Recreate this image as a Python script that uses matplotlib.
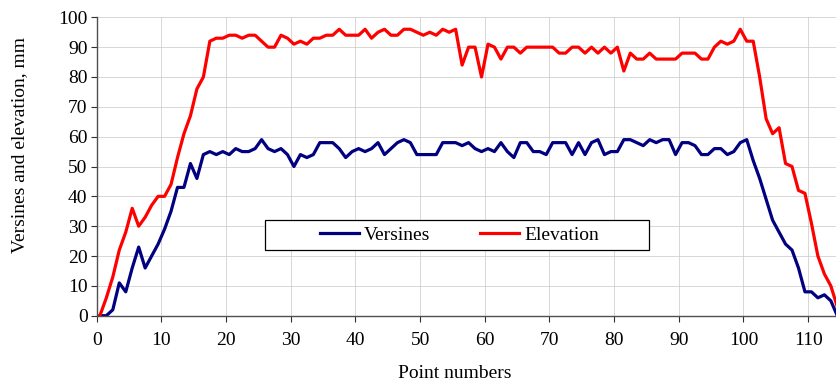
import matplotlib
matplotlib.use("Agg")
import matplotlib.pyplot as plt
import numpy as np
from matplotlib.patches import Rectangle

# values, one per point number 0..114
versines = [0, 0, 2, 11, 8, 16, 23, 16, 20, 24,
            29, 35, 43, 43, 51, 46, 54, 55, 54, 55,
            54, 56, 55, 55, 56, 59, 56, 55, 56, 54,
            50, 54, 53, 54, 58, 58, 58, 56, 53, 55,
            56, 55, 56, 58, 54, 56, 58, 59, 58, 54,
            54, 54, 54, 58, 58, 58, 57, 58, 56, 55,
            56, 55, 58, 55, 53, 58, 58, 55, 55, 54,
            58, 58, 58, 54, 58, 54, 58, 59, 54, 55,
            55, 59, 59, 58, 57, 59, 58, 59, 59, 54,
            58, 58, 57, 54, 54, 56, 56, 54, 55, 58,
            59, 52, 46, 39, 32, 28, 24, 22, 16, 8,
            8, 6, 7, 5, 0]
elevation = [0, 6, 13, 22, 28, 36, 30, 33, 37, 40,
             40, 44, 53, 61, 67, 76, 80, 92, 93, 93,
             94, 94, 93, 94, 94, 92, 90, 90, 94, 93,
             91, 92, 91, 93, 93, 94, 94, 96, 94, 94,
             94, 96, 93, 95, 96, 94, 94, 96, 96, 95,
             94, 95, 94, 96, 95, 96, 84, 90, 90, 80,
             91, 90, 86, 90, 90, 88, 90, 90, 90, 90,
             90, 88, 88, 90, 90, 88, 90, 88, 90, 88,
             90, 82, 88, 86, 86, 88, 86, 86, 86, 86,
             88, 88, 88, 86, 86, 90, 92, 91, 92, 96,
             92, 92, 80, 66, 61, 63, 51, 50, 42, 41,
             31, 20, 14, 10, 3]
x_ticks = list(range(0, 111, 10))
y_ticks = list(range(0, 101, 10))

plt.rcParams['font.family'] = ['Liberation Serif', 'DejaVu Serif']
plt.rcParams['font.size'] = 14

fig = plt.figure(figsize=(8.36, 3.83), dpi=100)
ax = fig.add_axes([0.1156, 0.1757, 0.8844, 0.7791])

# points sit in the middle of each category, like the spreadsheet chart
x = np.arange(len(versines)) + 0.5
ax.plot(x, versines, color='#000080', lw=2.3, label='Versines', zorder=2)
ax.plot(x, elevation, color='#ff0000', lw=2.3, label='Elevation', zorder=2)

ax.set_xlim(0, 114.3)
ax.set_ylim(0, 100)
ax.set_xticks(x_ticks)
ax.set_yticks(y_ticks)
ax.grid(True, color='#c8c8c8', lw=0.5, zorder=0)
ax.set_axisbelow(True)
for s in ['top', 'right']:
    ax.spines[s].set_visible(False)
for s in ['left', 'bottom']:
    ax.spines[s].set_color('#505050')
    ax.spines[s].set_linewidth(1.0)
ax.tick_params(axis='both', direction='out', length=4.5, width=0.8, color='#303030')
ax.tick_params(axis='y', pad=2)
ax.tick_params(axis='x', pad=7)

ax.set_xlabel('Point numbers')
ax.set_ylabel('Versines and elevation, mm')
ax.xaxis.set_label_coords(0.4847, -0.165)
ax.yaxis.set_label_coords(-0.093, 0.572)

# legend box
box = Rectangle((0.2277, 0.2202), 0.5194, 0.1005, transform=ax.transAxes,
                facecolor='white', edgecolor='black', lw=0.9, zorder=3)
ax.add_patch(box)
leg = ax.legend(loc='center', bbox_to_anchor=(0.4905, 0.2705), ncol=2,
                frameon=False, handlelength=2.0, handletextpad=0.25,
                columnspacing=2.6, borderpad=0.1)
leg.set_zorder(4)

fig.savefig('out.png', dpi=100)
